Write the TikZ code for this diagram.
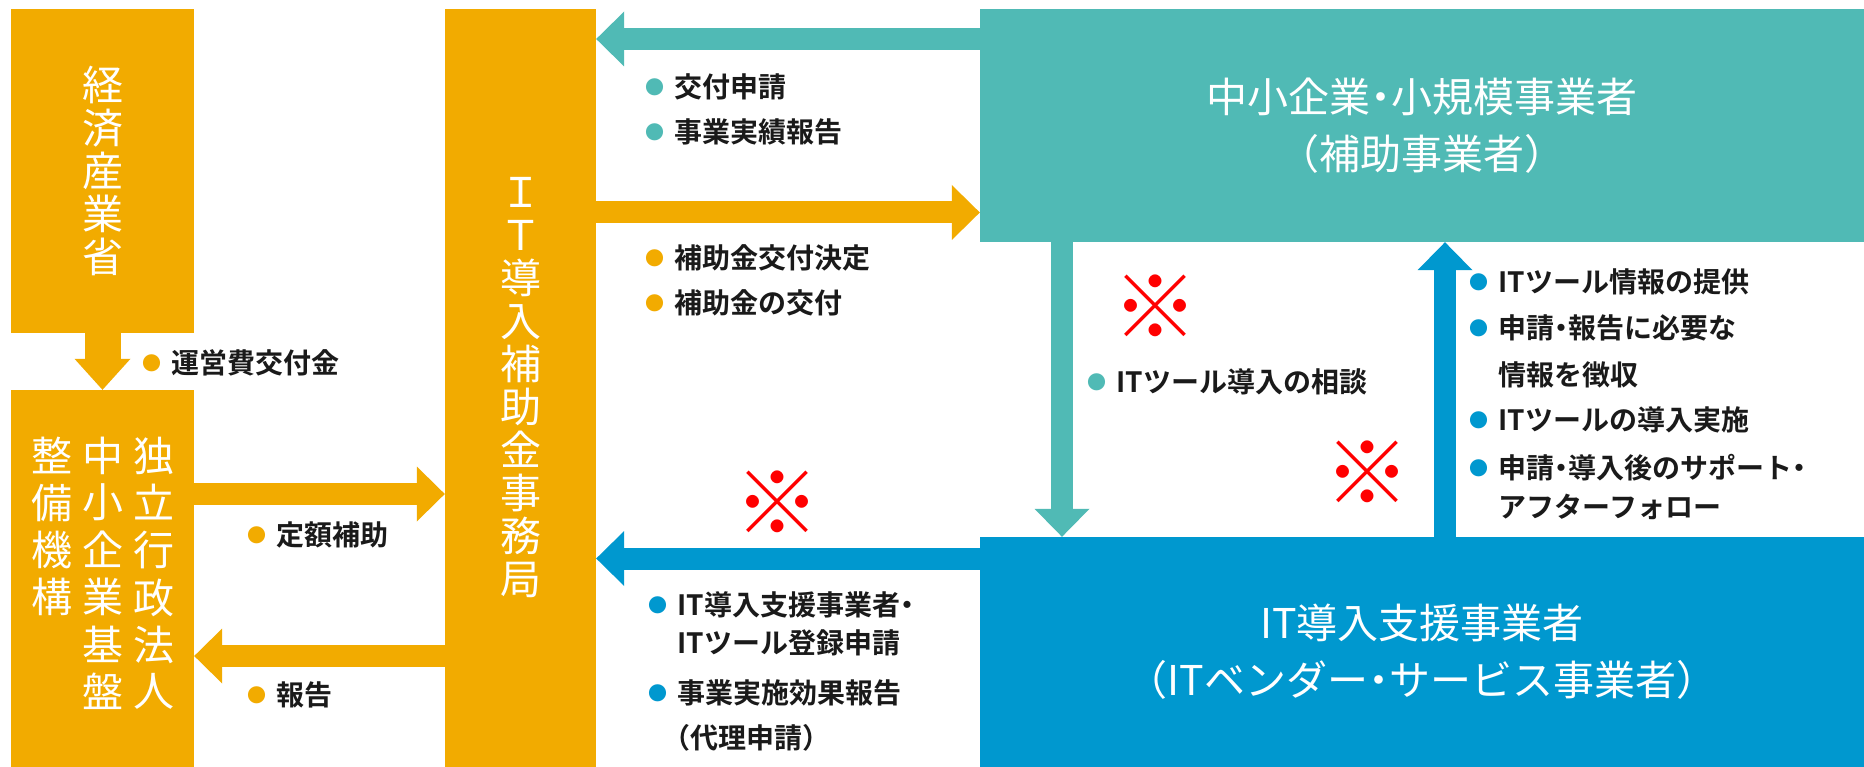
\documentclass[tikz,border=0pt]{standalone}
\usepackage{fontspec}
\setmainfont{Noto Sans CJK JP}[BoldFont={Noto Sans CJK JP Bold}]
\usetikzlibrary{arrows.meta}

\definecolor{orng}{HTML}{F2AB00}
\definecolor{tealc}{HTML}{50BAB5}
\definecolor{bluec}{HTML}{0098CF}
\definecolor{ink}{HTML}{1A1A1A}
\definecolor{komec}{HTML}{FF0000}

\newcommand\dotc[1]{\makebox[29pt][l]{\textcolor{#1}{\raisebox{3pt}{\fontsize{19}{19}\selectfont ●}}}}
\newcommand\tate[1]{\begin{tabular}[t]{@{}c@{}}#1\end{tabular}}
\newcommand\nak{\hspace{-0.25em}・\hspace{-0.25em}}

\tikzset{
  box/.style={rectangle, inner sep=0pt, text=white, align=center},
  tatebox/.style={box, font=\fontsize{41}{43}\selectfont},
  yokobox/.style={box, font=\fontsize{41}{57}\selectfont},
  lab/.style={anchor=west, inner sep=0pt, align=left, text=ink, font=\bfseries\fontsize{28}{38}\selectfont},
  kome/.style={inner sep=0pt, text=komec, font=\bfseries\fontsize{86}{86}\selectfont},
  fat/.style={line width=22pt, -{Triangle[length=28pt,width=55pt,line width=0pt]}},
  orgarr/.style={fat, draw=orng},
  tealarr/.style={fat, draw=tealc},
  bluearr/.style={fat, draw=bluec}
}

\begin{document}
\begin{tikzpicture}[x=1pt,y=-1pt]

\useasboundingbox[fill=white] (0,0) rectangle (1864,767);

\node[tatebox, fill=orng, minimum width=183pt, minimum height=324pt] (meti) at (102.5,171) {経\\済\\産\\業\\省};
\node[tatebox, fill=orng, minimum width=183pt, minimum height=377pt] (smrj) at (102.5,578.5)
  {\tate{整\\備\\機\\構}\hspace{10pt}\tate{中\\小\\企\\業\\基\\盤}\hspace{10pt}\tate{独\\立\\行\\政\\法\\人}};
\node[tatebox, fill=orng, minimum width=151pt, minimum height=758pt] (office) at (520.5,388)
  {Ｉ\\Ｔ\\導\\入\\補\\助\\金\\事\\務\\局};
\node[yokobox, fill=tealc, minimum width=884pt, minimum height=233pt] (sme) at (1422,125.5)
  {中小企業\nak 小規模事業者\\（補助事業者）};
\node[yokobox, fill=bluec, minimum width=884pt, minimum height=230pt] (vendor) at (1422,652)
  {IT導入支援事業者\\（ITベンダー\nak サービス事業者）};

\draw[orng, line width=36pt, -{Triangle[length=31pt,width=56pt,line width=0pt]}] (meti.south) -- (smrj.north);
\draw[orgarr] ([yshift=84.5pt]smrj.east) -- ([yshift=-106pt]office.west);
\draw[orgarr] ([yshift=-268pt]office.west) -- ([yshift=-77.5pt]smrj.east);
\draw[tealarr] ([yshift=86.5pt]sme.west) -- ([yshift=349pt]office.east);
\draw[orgarr] ([yshift=175.5pt]office.east) -- ([yshift=-87pt]sme.west);
\draw[bluearr] ([yshift=93.5pt]vendor.west) -- ([yshift=-170.5pt]office.east);
\draw[tealarr] ([xshift=-360pt]sme.south) -- ([xshift=-360pt]vendor.north);
\draw[bluearr] ([xshift=23pt]vendor.north) -- ([xshift=23pt]sme.south);

\node[lab] (grant) at (142.5,363) {\dotc{orng}運営費交付金};
\node[lab] (fixed) at (247.5,535) {\dotc{orng}定額補助};
\node[lab] (report) at (247.5,695) {\dotc{orng}報告};
\node[lab] (apply) at (645.5,109.5) {\dotc{tealc}交付申請\\[7pt]\dotc{tealc}事業実績報告};
\node[lab] (decide) at (645.5,280.5) {\dotc{orng}補助金交付決定\\[7pt]\dotc{orng}補助金の交付};
\node[lab] (regist) at (648.5,671.5) {\dotc{bluec}IT導入支援事業者\hspace{-0.25em}・\\\hspace*{29pt}ITツール登録申請\\[12pt]\dotc{bluec}事業実施効果報告\\[7pt]\hspace*{14pt}（代理申請）};
\node[lab] (consult) at (1087.5,382) {\dotc{tealc}ITツール導入の相談};
\node[lab] (support) at (1469.5,394.5) {\dotc{bluec}ITツール情報の提供\\[8pt]\dotc{bluec}申請\nak 報告に必要な\\[9pt]\hspace*{29pt}情報を徴収\\[7pt]\dotc{bluec}ITツールの導入実施\\[10pt]\dotc{bluec}申請\nak 導入後のサポート\hspace{-0.25em}・\\[1pt]\hspace*{29pt}アフターフォロー};

\node[kome] (kome1) at (777,503) {※};
\node[kome] (kome2) at (1155,307) {※};
\node[kome] (kome3) at (1367,473) {※};

\end{tikzpicture}
\end{document}
